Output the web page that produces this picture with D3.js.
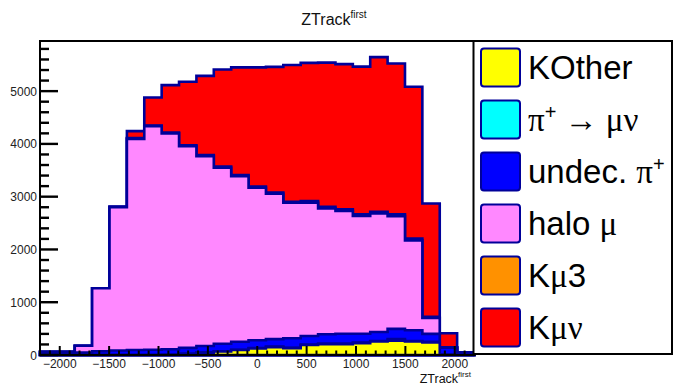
<!DOCTYPE html>
<html>
<head>
<meta charset="utf-8">
<script src="https://cdn.jsdelivr.net/npm/d3@7"></script>
<style>
body { margin: 0; background: #fff; }
svg { display: block; font-family: "Liberation Sans", Arial, sans-serif; }
</style>
</head>
<body>
<div id="chart"></div>
<script>
// bins: 25 bins of 176 from -2200 to 2200
const binLow = [-2200, -2024, -1848, -1672, -1496, -1320, -1144, -968, -792, -616, -440, -264, -88,
                88, 264, 440, 616, 792, 968, 1144, 1320, 1496, 1672, 1848, 2024];
const binWidth = 176;

// stack order, bottom first
const kOther   = [0, 0, 0, 0, 0, 0, 0, 10, 25, 45, 65, 95, 125, 150, 130, 190, 205, 205, 225, 255, 270, 255, 240, 10, 0];
const piMuNu   = [0, 0, 0, 0, 0, 0, 0, 0, 0, 0, 5, 5, 8, 8, 8, 10, 10, 10, 10, 10, 30, 10, 10, 5, 0];
const undecPi  = [20, 25, 45, 70, 85, 95, 100, 100, 110, 125, 144, 152, 147, 142, 178, 160, 177, 189, 169, 171, 195, 205, 150, 124, 20];
const haloMu   = [40, 35, 131, 1195, 2715, 4001, 4237, 4089, 3823, 3599, 3334, 3138, 2890, 2755, 2569, 2525, 2386, 2324, 2229, 2246, 2137, 1702, 300, 0, 0];
const kMu3     = [0, 0, 0, 0, 10, 14, 13, 16, 17, 21, 22, 20, 20, 25, 20, 32, 31, 31, 32, 32, 33, 33, 26, 0, 0];
const kMuNu    = [0, 0, 0, 0, 5, 132, 530, 899, 1202, 1500, 1841, 2040, 2260, 2380, 2590, 2619, 2731, 2752, 2800, 2931, 2859, 2877, 2146, 272, 30];

const seriesValues = [kOther, piMuNu, undecPi, haloMu, kMu3, kMuNu];
const seriesColors = ["#ffff00", "#00ffff", "#0000ff", "#ff88ff", "#ff9100", "#ff0000"];
const lineColor = "#000099";

const xTicks = [-2000, -1500, -1000, -500, 0, 500, 1000, 1500, 2000];
const yTicks = [0, 1000, 2000, 3000, 4000, 5000];

const W = 674, H = 386;
const svg = d3.select("#chart").append("svg").attr("width", W).attr("height", H);

const x = d3.scaleLinear().domain([-2200, 2200]).range([40, 474.5]);
const y = d3.scaleLinear().domain([0, 5950]).range([355, 41]);

// cumulative sums
const cum = [];
seriesValues.forEach(function(vals, s) {
  cum.push(vals.map(function(v, i) { return v + (s > 0 ? cum[s - 1][i] : 0); }));
});

function stepPoints(c) {
  const pts = [[x(binLow[0]), y(0)]];
  c.forEach(function(v, i) {
    pts.push([x(binLow[i]), y(v)]);
    pts.push([x(binLow[i] + binWidth), y(v)]);
  });
  pts.push([x(binLow[binLow.length - 1] + binWidth), y(0)]);
  return pts;
}
const line = d3.line();

// draw from top of stack down, like THStack
const hg = svg.append("g");
for (let s = cum.length - 1; s >= 0; s--) {
  hg.append("path")
    .attr("d", line(stepPoints(cum[s])) + "Z")
    .attr("fill", seriesColors[s])
    .attr("stroke", lineColor)
    .attr("stroke-width", 2.6)
    .attr("stroke-linejoin", "miter");
}

// frame
svg.append("rect")
  .attr("x", 40).attr("y", 41)
  .attr("width", 434.5).attr("height", 314)
  .attr("fill", "none").attr("stroke", "#000").attr("stroke-width", 2);

// x axis ticks (inside, pointing up)
const xa = svg.append("g");
d3.range(-2200, 2201, 100).forEach(function(v) {
  const major = v % 500 === 0;
  xa.append("line")
    .attr("x1", x(v)).attr("x2", x(v))
    .attr("y1", 355).attr("y2", 355 - (major ? 9 : 4.5))
    .attr("stroke", "#000").attr("stroke-width", 2);
});
xa.selectAll("text.xl").data(xTicks).enter().append("text")
  .attr("x", function(d) { return x(d); })
  .attr("y", 368)
  .attr("text-anchor", "middle")
  .attr("font-size", 12)
  .attr("fill", "#222")
  .text(function(d) { return d3.format("")(d); });

// y axis ticks (inside, pointing right)
const ya = svg.append("g");
d3.range(0, 5801, 200).forEach(function(v) {
  const major = v % 1000 === 0;
  ya.append("line")
    .attr("x1", 40).attr("x2", 40 + (major ? 18 : 9))
    .attr("y1", y(v)).attr("y2", y(v))
    .attr("stroke", "#000").attr("stroke-width", 2.4);
});
ya.selectAll("text.yl").data(yTicks).enter().append("text")
  .attr("x", 37)
  .attr("y", function(d) { return y(d) + 4.5; })
  .attr("text-anchor", "end")
  .attr("font-size", 12)
  .attr("fill", "#222")
  .text(function(d) { return d; });

// title
const title = svg.append("text")
  .attr("x", 334).attr("y", 25)
  .attr("text-anchor", "middle")
  .attr("font-size", 16)
  .attr("fill", "#111");
title.append("tspan").text("ZTrack");
title.append("tspan").attr("font-size", 10).attr("dy", -7).text("first");

// axis title
const xt = svg.append("text")
  .attr("x", 471).attr("y", 383)
  .attr("text-anchor", "end")
  .attr("font-size", 12.5)
  .attr("fill", "#111");
xt.append("tspan").text("ZTrack");
xt.append("tspan").attr("font-size", 8).attr("dy", -6).text("first");

// legend
const lg = svg.append("g");
lg.append("rect")
  .attr("x", 473.5).attr("y", 41)
  .attr("width", 198.5).attr("height", 313)
  .attr("fill", "#fff").attr("stroke", "#000").attr("stroke-width", 2);

const serif = "'Liberation Serif', 'DejaVu Serif', serif";
const legendItems = [
  { color: seriesColors[0], parts: [{ t: "KOther" }] },
  { color: seriesColors[1], parts: [{ t: "π", f: serif }, { t: "+", sup: true }, { t: " → μν", f: serif }] },
  { color: seriesColors[2], parts: [{ t: "undec. " }, { t: "π", f: serif }, { t: "+", sup: true }] },
  { color: seriesColors[3], parts: [{ t: "halo " }, { t: "μ", f: serif }] },
  { color: seriesColors[4], parts: [{ t: "K" }, { t: "μ", f: serif }, { t: "3" }] },
  { color: seriesColors[5], parts: [{ t: "K" }, { t: "μν", f: serif }] }
];

legendItems.forEach(function(it, i) {
  const cy = 67.5 + i * 52;
  lg.append("rect")
    .attr("x", 481).attr("y", cy - 19)
    .attr("width", 39).attr("height", 38)
    .attr("rx", 3)
    .attr("fill", it.color)
    .attr("stroke", lineColor).attr("stroke-width", 2);
  const t = lg.append("text")
    .attr("x", 528).attr("y", cy + 11.5)
    .attr("font-size", 33)
    .attr("fill", "#000");
  let raised = false;
  it.parts.forEach(function(p) {
    const sp = t.append("tspan").text(p.t);
    if (p.f) sp.attr("font-family", p.f);
    if (p.sup) {
      sp.attr("font-size", 20).attr("dy", -12);
      raised = true;
    } else if (raised) {
      sp.attr("dy", 12);
      raised = false;
    }
  });
});
</script>
</body>
</html>
